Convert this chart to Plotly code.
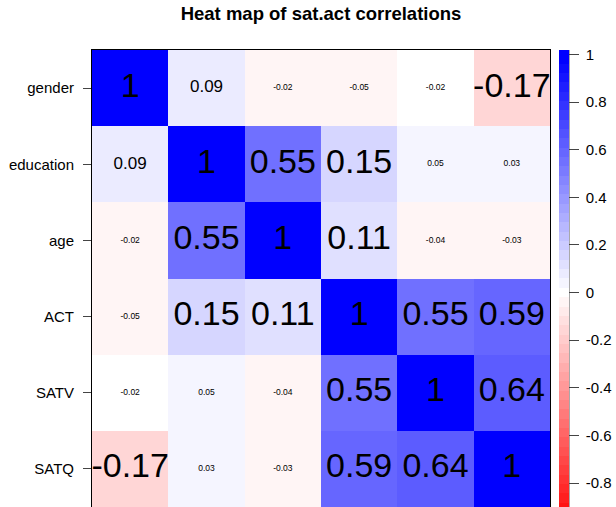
import math
import plotly.graph_objects as go

# ---- data ----
labels = ["gender", "education", "age", "ACT", "SATV", "SATQ"]
r_gender = [1.00, 0.09, -0.024, -0.05, -0.018, -0.17]
r_education = [0.09, 1.00, 0.55, 0.15, 0.05, 0.03]
r_age = [-0.024, 0.55, 1.00, 0.11, -0.04, -0.03]
r_act = [-0.05, 0.15, 0.11, 1.00, 0.55, 0.59]
r_satv = [-0.018, 0.05, -0.04, 0.55, 1.00, 0.64]
r_satq = [-0.17, 0.03, -0.03, 0.59, 0.64, 1.00]
n_obs = 700
cbar_tickvals = [1, 0.8, 0.6, 0.4, 0.2, 0, -0.2, -0.4, -0.6, -0.8]
cbar_ticktext = ["1", "0.8", "0.6", "0.4", "0.2", "0", "-0.2", "-0.4", "-0.6", "-0.8"]
title_text = "Heat map of sat.act correlations"

matrix = [r_gender, r_education, r_age, r_act, r_satv, r_satq]

# ---- styling ----
FONT = "Arial, Liberation Sans, sans-serif"
W, H = 616, 507
ML, MR, MT, MB = 92, 66, 50, 0
PW, PH = W - ML - MR, H - MT - MB
ZL = 1.018          # colour bar extent
NB = 51             # number of colour bins (red-white-blue ramp)
BASE = 34           # text size for strongly significant correlations


def ramp(t):
    if t <= 0.5:
        f = t / 0.5
        v = round(255 * f)
        return (255, v, v)
    f = (t - 0.5) / 0.5
    v = round(255 * (1 - f))
    return (v, v, 255)


colorscale = []
for k in range(NB):
    lo = -1 + 2 * k / NB
    hi = -1 + 2 * (k + 1) / NB
    u0 = 0.0 if k == 0 else (lo + ZL) / (2 * ZL)
    u1 = 1.0 if k == NB - 1 else (hi + ZL) / (2 * ZL)
    c = "rgb(%d,%d,%d)" % ramp(k / (NB - 1))
    colorscale.append([u0, c])
    colorscale.append([u1, c])


def pval(r):
    if abs(r) >= 1:
        return 0.0
    t = abs(r) * math.sqrt(n_obs - 2) / math.sqrt(1 - r * r)
    return math.erfc(t / math.sqrt(2))


def fmt(v):
    return "{:g}".format(round(v, 2))


tx, ty, tt, ts = [], [], [], []
for i, row in enumerate(matrix):
    for j, v in enumerate(row):
        p = pval(v)
        scale = 1.0 if p < 0.01 else (0.5 if p < 0.05 else 0.25)
        tx.append(labels[j])
        ty.append(labels[i])
        tt.append(fmt(v))
        ts.append(BASE * scale)

# colour bar placement in paper coords
cb_x = (559 - ML) / PW
cb_center_px = 292.6
cb_y = (H - MB - cb_center_px) / PH
cb_len = 2 * ZL * 238.3

fig = go.Figure()
fig.add_trace(go.Heatmap(
    z=matrix, x=labels, y=labels,
    zmin=-ZL, zmax=ZL, colorscale=colorscale,
    hoverinfo="skip",
    colorbar=dict(
        x=cb_x, xanchor="left", xpad=0, thickness=10,
        y=cb_y, yanchor="middle", ypad=0,
        lenmode="pixels", len=cb_len,
        outlinewidth=0,
        tickmode="array", tickvals=cbar_tickvals,
        ticktext=["\u00a0" + t for t in cbar_ticktext],
        ticks="outside", ticklen=10, tickcolor="#444", tickwidth=1,
        tickfont=dict(family=FONT, size=15, color="black"),
    ),
))
fig.add_trace(go.Scatter(
    x=tx, y=ty, text=tt, mode="text",
    textposition="middle center",
    textfont=dict(family=FONT, size=ts, color="black"),
    cliponaxis=False, hoverinfo="skip", showlegend=False,
))

fig.add_shape(type="line", xref="paper", yref="paper",
              x0=(569 - ML) / PW, x1=(569 - ML) / PW, y0=0, y1=1,
              line=dict(color="#555", width=1))

fig.update_layout(
    width=W, height=H,
    margin=dict(l=ML, r=MR, t=MT, b=MB, pad=0, autoexpand=False),
    paper_bgcolor="white", plot_bgcolor="white",
    showlegend=False,
    title=dict(text="<b>" + title_text + "</b>", x=0.5, xref="paper", xanchor="center",
               y=1 - 14 / H, yref="container", yanchor="middle",
               font=dict(family=FONT, size=18.5, color="black")),
    xaxis=dict(range=[-0.5, 5.5], showticklabels=False, ticks="", showgrid=False,
               zeroline=False, showline=True, mirror=True, linecolor="black", linewidth=1),
    yaxis=dict(range=[5.5, -0.5], showgrid=False, zeroline=False,
               showline=True, mirror=True, linecolor="black", linewidth=1,
               ticks="outside", ticklen=8, tickcolor="#444", tickwidth=1,
               ticklabelstandoff=6,
               tickfont=dict(family=FONT, size=15, color="black")),
)

fig.write_html("out.html")
